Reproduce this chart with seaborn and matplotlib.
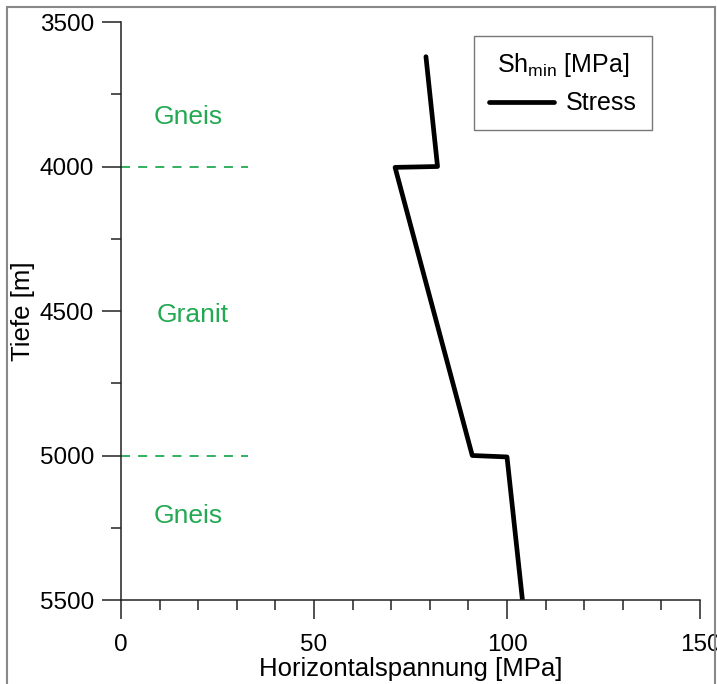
import matplotlib
matplotlib.use("Agg")
import matplotlib.pyplot as plt
import seaborn as sns
import pandas as pd
from matplotlib.patches import Rectangle
from matplotlib.ticker import MultipleLocator

# Data
stress = [79, 82, 71, 91, 100, 104]
depth = [3620, 4000, 4003, 5000, 5005, 5500]
boundaries = [4000, 5000]
layer_names = ["Gneis", "Granit", "Gneis"]
layer_x = [17.5, 18.5, 17.5]
layer_y = [3830, 4515, 5210]

sns.set_style("ticks")
plt.rcParams['font.family'] = ['Liberation Sans', 'DejaVu Sans']
plt.rcParams['text.color'] = 'black'
plt.rcParams['axes.labelcolor'] = 'black'
plt.rcParams['xtick.color'] = 'black'
plt.rcParams['ytick.color'] = 'black'

fig = plt.figure(figsize=(7.17, 6.84), dpi=100)
ax = fig.add_axes([121/717, 1-600/684, (700-121)/717, (600-22)/684])

df = pd.DataFrame({"Horizontalspannung": stress, "Tiefe": depth})
sns.lineplot(data=df, x="Horizontalspannung", y="Tiefe", sort=False, estimator=None,
             color="black", lw=3.4, label="Stress", ax=ax)

green = "#22a952"
for b in boundaries:
    ax.plot([0, 33], [b, b], color=green, lw=1.3, ls=(0, (5, 4.5)))
for name, x, y in zip(layer_names, layer_x, layer_y):
    ax.text(x, y, name, color=green, fontsize=19, ha="center", va="center")

ax.set_xlim(0, 150)
ax.set_ylim(5500, 3500)
ax.xaxis.set_major_locator(MultipleLocator(50))
ax.xaxis.set_minor_locator(MultipleLocator(10))
ax.yaxis.set_major_locator(MultipleLocator(500))
ax.yaxis.set_minor_locator(MultipleLocator(250))
ax.tick_params(which="major", length=13.5, width=1.1, labelsize=17.5, color="#222222")
ax.tick_params(which="minor", length=7, width=1.1, color="#222222")
ax.tick_params(axis="y", which="major", pad=6)
ax.tick_params(axis="x", which="major", pad=11)
for s in ["top", "right"]:
    ax.spines[s].set_visible(False)
for s in ["left", "bottom"]:
    ax.spines[s].set_linewidth(1.1)
    ax.spines[s].set_color("#222222")

ax.set_xlabel("Horizontalspannung [MPa]", fontsize=18.5, labelpad=1)
ax.set_ylabel("Tiefe [m]", fontsize=18.5, labelpad=3)

leg = ax.legend(title="Sh$_{\\mathregular{min}}$ [MPa]", loc="upper right",
                bbox_to_anchor=((652-121)/579, (600-36)/578), borderaxespad=0,
                fontsize=18, title_fontsize=18,
                fancybox=False, edgecolor="#777777", framealpha=1,
                handlelength=2.6, borderpad=0.6, handletextpad=0.5)
leg.get_frame().set_linewidth(1.0)

fig.add_artist(Rectangle((7/717, -0.1), (715-7)/717, 1.1 - 7/684,
                         transform=fig.transFigure, fill=False,
                         edgecolor="#888888", lw=1.5))

fig.savefig("out.png", dpi=100)
